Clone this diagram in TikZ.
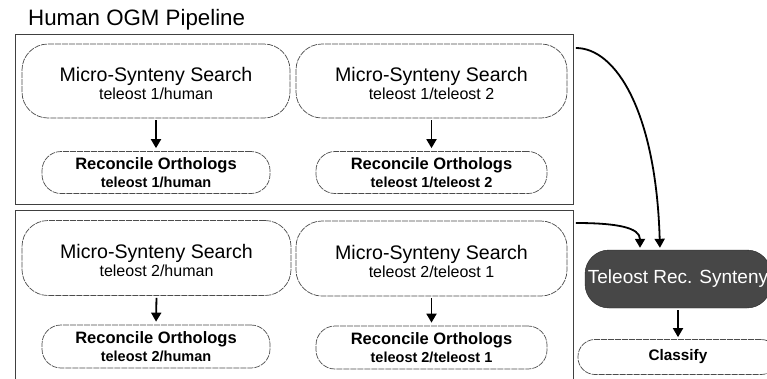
\documentclass[tikz,border=0pt]{standalone}
\usepackage{fontspec}
\setmainfont{Liberation Sans}
\usetikzlibrary{arrows.meta,calc}
\newcommand\upstrut{\rule{0pt}{20pt}}
\begin{document}
\begin{tikzpicture}[x=1pt,y=-1pt,
  grp/.style={draw=black!75, line width=0.9pt, minimum width=558pt, anchor=north west, inner sep=0pt},
  mss/.style={draw=black!70, line width=0.7pt, dash pattern=on 6pt off 1pt, rounded corners=26pt,
     minimum height=74pt, align=center, inner sep=0pt, font=\fontsize{19.6}{18}\selectfont},
  rec/.style={draw=black!70, line width=0.7pt, dash pattern=on 6pt off 1pt, rounded corners=19pt,
     minimum height=42pt, align=center, inner sep=0pt, font=\bfseries\fontsize{16.5}{18}\selectfont},
  arr/.style={line width=1.8pt, -{Triangle[width=10pt,length=9pt]}},
  dark/.style={fill=black!72, draw=black!85, rounded corners=24pt, minimum width=186pt,
     minimum height=58pt, inner sep=0pt, text=white, font=\fontsize{19}{20}\selectfont}
]
\clip (0,0) rectangle (767,378);
\fill[white] (0,0) rectangle (767,378);

\node[anchor=base west, inner sep=0pt, font=\fontsize{22.3}{24}\selectfont] (title) at (28,25) {Human OGM Pipeline};

\node[grp, minimum height=170pt] (topbox) at (15,34) {};
\node[grp, minimum height=180pt] (botbox) at (15,210) {};

\node[mss, minimum width=268pt] (mss1) at (156,81) {\upstrut Micro-Synteny Search\\{\fontsize{16}{18}\selectfont teleost 1/human}};
\node[mss, minimum width=271pt] (mss2) at (431.5,81) {\upstrut Micro-Synteny Search\\{\fontsize{16}{18}\selectfont teleost 1/teleost 2}};
\node[rec, minimum width=228pt] (rec1) at (156,172.5) {Reconcile Orthologs\\{\fontsize{14.5}{18}\selectfont teleost 1/human}};
\node[rec, minimum width=231pt] (rec2) at (431.5,172.5) {Reconcile Orthologs\\{\fontsize{14.5}{18}\selectfont teleost 1/teleost 2}};

\node[mss, minimum width=269pt, minimum height=75pt] (mss3) at (156.5,258) {\upstrut Micro-Synteny Search\\{\fontsize{16}{18}\selectfont teleost 2/human}};
\node[mss, minimum width=271pt, minimum height=75pt] (mss4) at (431.5,258.5) {\upstrut Micro-Synteny Search\\{\fontsize{16}{18}\selectfont teleost 2/teleost 1}};
\node[rec, minimum width=228pt, minimum height=43pt] (rec3) at (156,346.5) {Reconcile Orthologs\\{\fontsize{14.5}{18}\selectfont teleost 2/human}};
\node[rec, minimum width=231pt, minimum height=43pt] (rec4) at (431.5,347.5) {Reconcile Orthologs\\{\fontsize{14.5}{18}\selectfont teleost 2/teleost 1}};

\node[dark] (tel) at (678,279) {Teleost Rec. Synteny};
\node[rec, minimum width=200pt, minimum height=35pt, rounded corners=17pt, font=\bfseries\fontsize{15.3}{18}\selectfont] (cls) at (678,357) {Classify};

\draw[arr, shorten <=2pt, shorten >=3pt] (mss1.south) -- (rec1.north);
\draw[arr, shorten <=2pt, shorten >=3pt] (mss2.south) -- (rec2.north);
\draw[arr, shorten <=2pt, shorten >=3pt] (mss3.south) -- (rec3.north);
\draw[arr, shorten <=2pt, shorten >=3pt] (mss4.south) -- (rec4.north);
\draw[arr, shorten <=2pt, shorten >=2pt] (tel.south) -- (cls.north);

\draw[arr, shorten >=2pt] ($(topbox.north east)+(2,14)$) .. controls +(40,0) and +(-4,-138) .. ($(tel.north)+(-18,0)$);
\draw[arr, shorten >=2pt] ($(botbox.north east)+(2,13)$) .. controls +(42,0) and +(0,-22) .. ($(tel.north)+(-38,0)$);
\end{tikzpicture}
\end{document}
